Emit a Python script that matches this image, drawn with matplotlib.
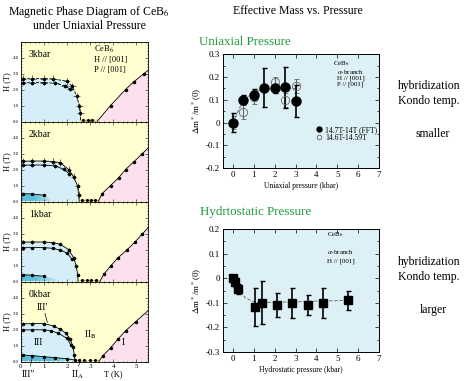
import numpy as np
import matplotlib.pyplot as plt
from matplotlib.patches import Polygon
from matplotlib.ticker import MultipleLocator

plt.rcParams['font.family'] = ['Liberation Serif', 'DejaVu Serif']
plt.rcParams['mathtext.fontset'] = 'stix'

# ---------- effective mass vs pressure ----------
uni_p = [0, 0.5, 1, 1.5, 2, 2.5, 3]
uni_fft = [0.0, 0.10, 0.123, 0.154, 0.15, 0.155, 0.095]
uni_fft_err = [0.04, 0.02, 0.025, 0.085, 0.02, 0.09, 0.07]
uni_p_open = [0, 0.5, 1, 2, 2.5, 3]
uni_open = [0.0, 0.047, 0.113, 0.18, 0.10, 0.16]
uni_open_err = [0.03, 0.03, 0.03, 0.02, 0.03, 0.03]
uni_guide_p = [0, 0.5, 1, 1.5, 3]
uni_guide = [0.0, 0.10, 0.13, 0.15, 0.15]

hyd_p = [0.0, 0.1, 0.25, 1.07, 1.4, 2.1, 2.85, 3.6, 4.3, 5.5]
hyd_dm = [0.0, -0.014, -0.044, -0.116, -0.10, -0.109, -0.10, -0.108, -0.10, -0.09]
hyd_err = [0.01, 0.02, 0.02, 0.077, 0.088, 0.05, 0.06, 0.04, 0.06, 0.04]
hyd_guide_p = [0, 0.25, 0.6, 1.1, 5.5]
hyd_guide = [0.0, -0.045, -0.08, -0.10, -0.09]

# ---------- phase diagrams (top to bottom) ----------
pressures = ['3kbar', '2kbar', '1kbar', '0kbar']
outer_T = [[0.09, 0.5, 1.0, 1.4, 2.0, 2.22, 2.43, 2.53, 2.58, 2.58],
           [0.09, 0.5, 1.0, 1.4, 1.71, 2.07, 2.29, 2.46, 2.5, 2.53],
           [0.09, 0.5, 1.0, 1.4, 1.71, 2.07, 2.29, 2.4, 2.46, 2.48],
           [0.09, 0.5, 1.0, 1.42, 1.71, 1.97, 2.14, 2.26, 2.32, 2.35]]
outer_H = [[2.67, 2.68, 2.68, 2.66, 2.52, 2.21, 1.58, 0.96, 0.54, 0.0],
           [2.52, 2.53, 2.53, 2.50, 2.42, 2.00, 1.54, 0.96, 0.43, 0.0],
           [2.46, 2.47, 2.47, 2.43, 2.32, 2.00, 1.48, 0.96, 0.43, 0.0],
           [2.35, 2.37, 2.37, 2.22, 2.01, 1.76, 1.39, 0.92, 0.40, 0.0]]
inner_T = [[0.09, 0.5, 1.0, 1.5, 1.9, 2.15],
           [0.09, 0.5, 1.0, 1.5, 1.85, 2.1],
           [0.09, 0.5, 1.0, 1.4, 1.7, 2.0, 2.22],
           [0.09, 0.5, 1.0, 1.3, 1.63, 2.0, 2.17]]
inner_H = [[2.42, 2.43, 2.43, 2.39, 2.23, 2.01],
           [2.27, 2.28, 2.28, 2.22, 2.01, 1.74],
           [2.11, 2.12, 2.12, 2.07, 1.96, 1.79, 1.38],
           [1.97, 1.98, 1.98, 1.93, 1.76, 1.45, 1.03]]
low_T = [[], [0.09, 0.5, 1.0], [0.09, 0.5, 1.0],
         [0.09, 0.5, 1.0, 1.5, 2.0, 2.35]]
low_H = [[], [0.49, 0.47, 0.39], [0.43, 0.39, 0.33],
         [0.40, 0.37, 0.30, 0.24, 0.17, 0.09]]
low_fade_T = [0, 1.4, 1.8, 2.35]
IIA_T = [[2.7, 2.9, 3.1], [2.65, 2.85, 3.05, 3.2], [2.65, 2.85, 3.05, 3.25],
         [2.5, 2.75, 3.0, 3.2]]
IIA_H = [0.09, 0.08, 0.07, 0.07]
pink_T = [[3.30, 3.88, 4.53, 4.9, 5.33],
          [3.35, 3.52, 3.88, 4.24, 4.53, 4.9, 5.26],
          [3.42, 3.59, 3.88, 4.2, 4.58, 4.93, 5.26],
          [3.37, 3.54, 3.88, 4.2, 4.53, 4.97]]
pink_H = [[0.0, 1.0, 2.0, 2.5, 3.0],
          [0.0, 0.5, 1.0, 1.5, 2.0, 2.5, 3.0],
          [0.0, 0.45, 0.96, 1.48, 1.96, 2.46, 2.98],
          [0.0, 0.35, 0.85, 1.40, 1.92, 2.49]]
dome_err = [(0.15, 0.22), (0.12, 0.22), (0.08, 0.11), (0.06, 0.09)]

T_MAX, H_MAX = 5.5, 5.0
YEL, PINK, BLUE = '#ffffd0', '#fde0ee', '#d6eef7'
GREEN = '#1f9a3c'

fig = plt.figure(figsize=(4.7, 3.81), dpi=100)


def box(x0, y0, x1, y1):
    return [x0 / 470, 1 - y1 / 381, (x1 - x0) / 470, (y1 - y0) / 381]


def ftext(x, y, s, **kw):
    # place text by pixel position of the 470x381 canvas
    fig.text(x / 470, 1 - y / 381, s, va='center', **kw)


# ---------------- left: phase diagrams ----------------
tops = [41.5, 121.5, 201.5, 281.5]
for i, name in enumerate(pressures):
    ax = fig.add_axes(box(20.7, tops[i], 148, tops[i] + 80))
    ax.set_facecolor(YEL)
    ax.set_xlim(0, T_MAX)
    ax.set_ylim(0, H_MAX)
    ls = '--' if i == 0 else '-'

    # pink phase I, extend boundary to the right edge
    pt, ph = pink_T[i], pink_H[i]
    slope = (ph[-1] - ph[-2]) / (pt[-1] - pt[-2])
    edge = ph[-1] + slope * (T_MAX - pt[-1])
    verts = list(zip(pt, ph)) + [(T_MAX, edge), (T_MAX, 0)]
    ax.add_patch(Polygon(verts, closed=True, fc=PINK, ec='none'))
    ax.plot(pt + [T_MAX], ph + [edge], color='k', lw=0.6)
    ax.errorbar(pt[1:], ph[1:], xerr=0.04, yerr=0.06, fmt='o', color='k',
                ms=1.5, lw=0.4)

    # phase III dome
    ot, oh = outer_T[i], outer_H[i]
    verts = [(0, 0), (0, oh[0])] + list(zip(ot, oh))
    ax.add_patch(Polygon(verts, closed=True, fc=BLUE, ec='none'))
    ax.plot(ot, oh, ls, color='k', lw=0.6)
    ax.plot(inner_T[i], inner_H[i], ls, color='k', lw=0.6)
    ex, ey = dome_err[i]
    ax.errorbar(ot[:-1], oh[:-1], xerr=ex, yerr=ey, fmt='o', color='k',
                ms=1.5, lw=0.4)
    ax.errorbar(inner_T[i], inner_H[i], xerr=ex, yerr=ey * 0.6, fmt='o',
                color='k', ms=1.5, lw=0.4)

    # phase III'' (low field), fading teal
    if low_T[i]:
        lt, lh = low_T[i], low_H[i]
        tf = low_fade_T[i]
        verts = [(0, 0), (0, lh[0])] + list(zip(lt, lh)) + [(tf, 0.05), (tf, 0)]
        poly = Polygon(verts, closed=True, fc='none', ec='none')
        ax.add_patch(poly)
        grad = np.zeros((2, 100, 4))
        grad[..., :3] = [0.37, 0.75, 0.86]
        xs = np.linspace(0, tf, 100)
        grad[..., 3] = np.clip((tf - xs) / (tf - lt[-1] * 0.6 + 1e-9), 0, 1)
        im = ax.imshow(grad, extent=[0, tf, 0, lh[0] + 0.1], aspect='auto',
                       origin='lower', zorder=1.5)
        im.set_clip_path(poly)
        ax.plot(lt, lh, '-', color='k', lw=0.6)
        ax.plot(lt, lh, 'o', color='k', ms=1.5)

    # phase II_A
    ax.errorbar(IIA_T[i], [IIA_H[i]] * len(IIA_T[i]), xerr=0.08, yerr=0.08,
                fmt='o', color='k', ms=1.2, lw=0.4)
    ax.fill_between([ot[-1], pt[0]], 0, IIA_H[i] + 0.05, color='#eeeaa0',
                    zorder=1.2)

    ax.xaxis.set_major_locator(MultipleLocator(1))
    ax.xaxis.set_minor_locator(MultipleLocator(0.2))
    ax.yaxis.set_minor_locator(MultipleLocator(0.2))
    ax.tick_params(which='both', direction='in', top=True, right=True,
                   labelsize=3.5, width=0.4, pad=1.5)
    ax.tick_params(axis='x', labelsize=5)
    ax.tick_params(which='major', length=2)
    ax.tick_params(which='minor', length=1)
    ax.set_yticks([0, 1, 2, 3, 4])
    ax.set_yticklabels(['0.0', '1.0', '2.0', '3.0', '4.0'])
    if i < 3:
        ax.set_xticklabels([])
    for s in ax.spines.values():
        s.set_linewidth(0.6)
    ax.set_ylabel('H (T)', fontsize=6, labelpad=1)
    ax.text(0.35, 4.2, name, fontsize=7, va='center')

    if i == 0:
        ax.text(3.15, 4.5, 'CeB$_6$', fontsize=6, va='center')
        ax.text(3.15, 3.82, 'H // [001]', fontsize=6, va='center')
        ax.text(3.15, 3.2, 'P // [001]', fontsize=6, va='center')
    if i == 3:
        ax.text(0.95, 3.4, 'III\u2032', fontsize=7, ha='center', va='center')
        ax.plot([1.05, 1.15], [3.0, 2.45], color='k', lw=0.5)
        ax.text(0.75, 1.2, 'III', fontsize=7, ha='center', va='center')
        ax.text(3.0, 1.7, 'II$_\\mathrm{B}$', fontsize=7, ha='center',
                va='center')
        ax.text(4.45, 1.2, 'I', fontsize=7, ha='center', va='center')
        ax.plot([0.42, 0.5], [-0.3, 0.25], color='k', lw=0.4, clip_on=False)
        ax.plot([2.5, 2.6], [-0.3, 0.15], color='k', lw=0.4, clip_on=False)
        ax.text(0.35, -0.8, 'III\u2033', fontsize=7, ha='center',
                va='center')
        ax.text(2.45, -0.8, 'II$_\\mathrm{A}$', fontsize=7, ha='center',
                va='center')
        ax.text(4.0, -0.8, 'T (K)', fontsize=6, ha='center', va='center')

ftext(89, 12, 'Magnetic Phase Diagram of CeB$_6$', fontsize=8.5, ha='center')
ftext(89, 26, 'under Uniaxial Pressure', fontsize=8.5, ha='center')
ftext(298, 11, 'Effective Mass vs. Pressure', fontsize=8.5, ha='center')


def style_right(ax, xlab):
    ax.set_facecolor('#dcf0f6')
    ax.set_xlim(-0.5, 7)
    ax.xaxis.set_major_locator(MultipleLocator(1))
    ax.yaxis.set_major_locator(MultipleLocator(0.1))
    ax.yaxis.set_minor_locator(MultipleLocator(0.05))
    ax.tick_params(which='both', direction='in', top=True, right=True,
                   labelsize=6.5, width=0.5, pad=2)
    ax.tick_params(which='major', length=3)
    ax.tick_params(which='minor', length=1.5)
    ax.set_xlabel(xlab, fontsize=5.5, labelpad=2)
    ax.set_ylabel(r'$\Delta$m$^*$/m$^*$(0)', fontsize=6.5, labelpad=1)
    for s in ax.spines.values():
        s.set_linewidth(0.7)


def fmt_y(v, pos):
    return '0' if abs(v) < 1e-9 else f'{v:.1f}'


# uniaxial
ax = fig.add_axes(box(222.5, 54.3, 379, 168))
style_right(ax, 'Uniaxial pressure (kbar)')
ax.set_ylim(-0.2, 0.3)
ax.yaxis.set_major_formatter(fmt_y)
ax.plot(uni_guide_p, uni_guide, '--', color='0.45', lw=0.7)
h2 = ax.errorbar(uni_p_open, uni_open, yerr=uni_open_err, fmt='o',
                 mfc='none', mec='0.4', ecolor='0.4', ms=6, mew=0.6,
                 capsize=1.8, lw=0.8)
h1 = ax.errorbar(uni_p, uni_fft, yerr=uni_fft_err, fmt='o', color='k',
                 ms=6.5, capsize=1.8, lw=1.2)
ax.legend([h1[0], h2[0]], ['14.7T-14T (FFT)', '14.6T-14.59T'],
          loc='center left', bbox_to_anchor=(0.575, 0.30), fontsize=5.5,
          frameon=False, handletextpad=0.4, handlelength=0.8, borderpad=0,
          labelspacing=0.0, markerscale=0.55)
ftext(333, 63.5, 'CeB$_6$', fontsize=5)
ftext(337, 71.5, r'$\alpha$-branch', fontsize=5)
ftext(337, 78, 'H // [001]', fontsize=5)
ftext(337, 84.5, 'P // [001]', fontsize=5)
ftext(199, 42, 'Uniaxial Pressure', fontsize=9.4, color=GREEN)

# hydrostatic
ax = fig.add_axes(box(222.5, 229, 379, 352))
style_right(ax, 'Hydrostatic pressure (kbar)')
ax.set_ylim(-0.3, 0.2)
ax.yaxis.set_major_formatter(fmt_y)
ax.plot(hyd_guide_p, hyd_guide, '--', color='0.45', lw=0.7)
ax.errorbar(hyd_p, hyd_dm, yerr=hyd_err, fmt='s', color='k', ms=5.5,
            capsize=1.8, lw=1.2)
ftext(327, 235, 'CeB$_6$', fontsize=5)
ftext(327, 252, r'$\alpha$-branch', fontsize=5)
ftext(327, 261, 'H // [001]', fontsize=5)
ftext(200, 212, 'Hydrtostatic Pressure', fontsize=9.4, color=GREEN)

for y, s in [(86, 'hybridization'), (101, 'Kondo temp.'),
             (262, 'hybridization'), (277, 'Kondo temp.')]:
    ftext(398, y, s, fontsize=8.5)
ftext(433, 134, 'smaller', fontsize=8.5, ha='center')
ftext(433, 310, 'larger', fontsize=8.5, ha='center')

fig.savefig('out.png', dpi=100)
